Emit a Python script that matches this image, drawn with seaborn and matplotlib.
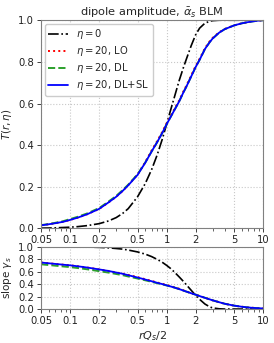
import numpy as np
import pandas as pd
import matplotlib
matplotlib.use("Agg")
import matplotlib.pyplot as plt
import seaborn as sns
from matplotlib.ticker import FixedLocator, FixedFormatter, MultipleLocator

sns.set_style("ticks")
plt.rcParams['font.family'] = ['DejaVu Sans']

# r Qs / 2 grid
r = [0.05, 0.06, 0.07, 0.085, 0.1, 0.12, 0.15, 0.2, 0.25, 0.3, 0.35, 0.4, 0.5, 0.6,
     0.7, 0.8, 0.9, 1.0, 1.1, 1.2, 1.35, 1.5, 1.6, 1.8, 2.0, 2.2, 2.5, 2.8, 3.0,
     3.5, 4.0, 5.0, 6.0, 7.0, 8.5, 10.0]

# dipole amplitude T(r, eta)
T_eta0 = [0.0015, 0.002, 0.003, 0.0045, 0.006, 0.0087, 0.0135, 0.023, 0.036, 0.052,
          0.072, 0.095, 0.152, 0.215, 0.283, 0.354, 0.427, 0.5, 0.568, 0.628, 0.71,
          0.775, 0.812, 0.878, 0.93, 0.962, 0.986, 0.995, 0.998, 1.0, 1.0, 1.0, 1.0,
          1.0, 1.0, 1.0]
T_lo = [0.015, 0.02, 0.025, 0.032, 0.041, 0.052, 0.068, 0.094, 0.125, 0.152, 0.18,
        0.208, 0.259, 0.318, 0.375, 0.42, 0.463, 0.505, 0.54, 0.572, 0.615, 0.66,
        0.685, 0.735, 0.78, 0.815, 0.866, 0.899, 0.915, 0.942, 0.958, 0.975, 0.985,
        0.991, 0.997, 1.0]
T_dl = [0.016, 0.021, 0.027, 0.035, 0.045, 0.056, 0.072, 0.098, 0.129, 0.156, 0.184,
        0.21, 0.26, 0.316, 0.37, 0.415, 0.458, 0.5, 0.535, 0.567, 0.61, 0.655, 0.68,
        0.73, 0.775, 0.81, 0.862, 0.895, 0.912, 0.94, 0.957, 0.975, 0.985, 0.991,
        0.997, 1.0]
T_dlsl = [0.015, 0.02, 0.025, 0.032, 0.041, 0.052, 0.068, 0.094, 0.125, 0.152, 0.18,
          0.207, 0.257, 0.315, 0.37, 0.415, 0.458, 0.5, 0.535, 0.567, 0.61, 0.655,
          0.68, 0.73, 0.775, 0.81, 0.862, 0.895, 0.912, 0.94, 0.957, 0.975, 0.985,
          0.991, 0.997, 1.0]

# slope gamma_s
g_eta0 = [1.0, 1.0, 0.999, 0.998, 0.997, 0.995, 0.993, 0.988, 0.98, 0.97, 0.96, 0.945,
          0.915, 0.88, 0.84, 0.795, 0.75, 0.70, 0.65, 0.595, 0.515, 0.44, 0.39, 0.30,
          0.22, 0.155, 0.08, 0.035, 0.018, 0.004, 0.0, 0.0, 0.0, 0.0, 0.0, 0.0]
g_lo = [0.745, 0.733, 0.723, 0.71, 0.70, 0.685, 0.665, 0.635, 0.61, 0.586, 0.567,
        0.547, 0.51, 0.478, 0.45, 0.425, 0.405, 0.385, 0.367, 0.35, 0.325, 0.299,
        0.282, 0.253, 0.23, 0.208, 0.18, 0.155, 0.14, 0.11, 0.085, 0.055, 0.037,
        0.025, 0.015, 0.01]
g_dl = [0.717, 0.705, 0.695, 0.682, 0.672, 0.657, 0.637, 0.607, 0.584, 0.562, 0.543,
        0.522, 0.489, 0.461, 0.436, 0.414, 0.396, 0.378, 0.362, 0.345, 0.32, 0.295,
        0.28, 0.253, 0.23, 0.208, 0.18, 0.155, 0.14, 0.11, 0.085, 0.055, 0.037,
        0.025, 0.015, 0.01]
g_dlsl = [0.745, 0.733, 0.723, 0.71, 0.70, 0.685, 0.665, 0.635, 0.61, 0.585, 0.565,
          0.542, 0.505, 0.473, 0.445, 0.42, 0.40, 0.38, 0.362, 0.345, 0.32, 0.295,
          0.28, 0.253, 0.23, 0.208, 0.18, 0.155, 0.14, 0.11, 0.085, 0.055, 0.037,
          0.025, 0.015, 0.01]

xticks = [0.05, 0.1, 0.2, 0.5, 1, 2, 5, 10]
xticklabels = ['0.05', '0.1', '0.2', '0.5', '1', '2', '5', '10']

fig = plt.figure(figsize=(2.74, 3.43), dpi=100)
ax1 = fig.add_axes([0.15, 0.334, 0.81, 0.607])
ax2 = fig.add_axes([0.15, 0.099, 0.81, 0.182])

styles = [
    (r'$\eta=0$', 'black', '-.', 1.2),
    (r'$\eta=20$, LO', 'red', ':', 1.4),
    (r'$\eta=20$, DL', 'tab:green', '--', 1.4),
    (r'$\eta=20$, DL+SL', 'blue', '-', 1.3),
]

for (lab, col, ls, lw), ys in zip(styles, [T_eta0, T_lo, T_dl, T_dlsl]):
    sns.lineplot(x=r, y=ys, ax=ax1, color=col, linestyle=ls, linewidth=lw, label=lab)
for (lab, col, ls, lw), ys in zip(styles, [g_eta0, g_lo, g_dl, g_dlsl]):
    sns.lineplot(x=r, y=ys, ax=ax2, color=col, linestyle=ls, linewidth=lw)

for ax in [ax1, ax2]:
    ax.set_xscale('log')
    ax.set_xlim(0.05, 10)
    ax.set_ylim(0, 1)
    ax.xaxis.set_major_locator(FixedLocator(xticks))
    ax.xaxis.set_major_formatter(FixedFormatter(xticklabels))
    ax.yaxis.set_major_locator(MultipleLocator(0.2))
    ax.grid(True, which='major', linestyle=':', color='#c8c8c8', linewidth=0.8)
    ax.tick_params(labelsize=7.2, colors='#222222', length=3, width=0.6, pad=2)
    ax.tick_params(which='minor', length=2, width=0.5)
    for s in ax.spines.values():
        s.set_color('#808080')
        s.set_linewidth(0.8)

ax1.set_ylabel(r'$T(r,\eta)$', fontsize=7.5, labelpad=3)
ax1.set_title(r'dipole amplitude, $\bar{\alpha}_s$ BLM', fontsize=8.2, pad=3)
ax1.legend(loc='upper left', fontsize=7.2, frameon=True, handlelength=2.0, borderpad=0.35,
           labelspacing=0.3, borderaxespad=0.35, edgecolor='#cccccc', framealpha=1)
ax2.set_ylabel(r'slope $\gamma_s$', fontsize=7.5, labelpad=3)
ax2.set_xlabel(r'$rQ_s/2$', fontsize=8, labelpad=2)

plt.savefig('out.png', dpi=100)
